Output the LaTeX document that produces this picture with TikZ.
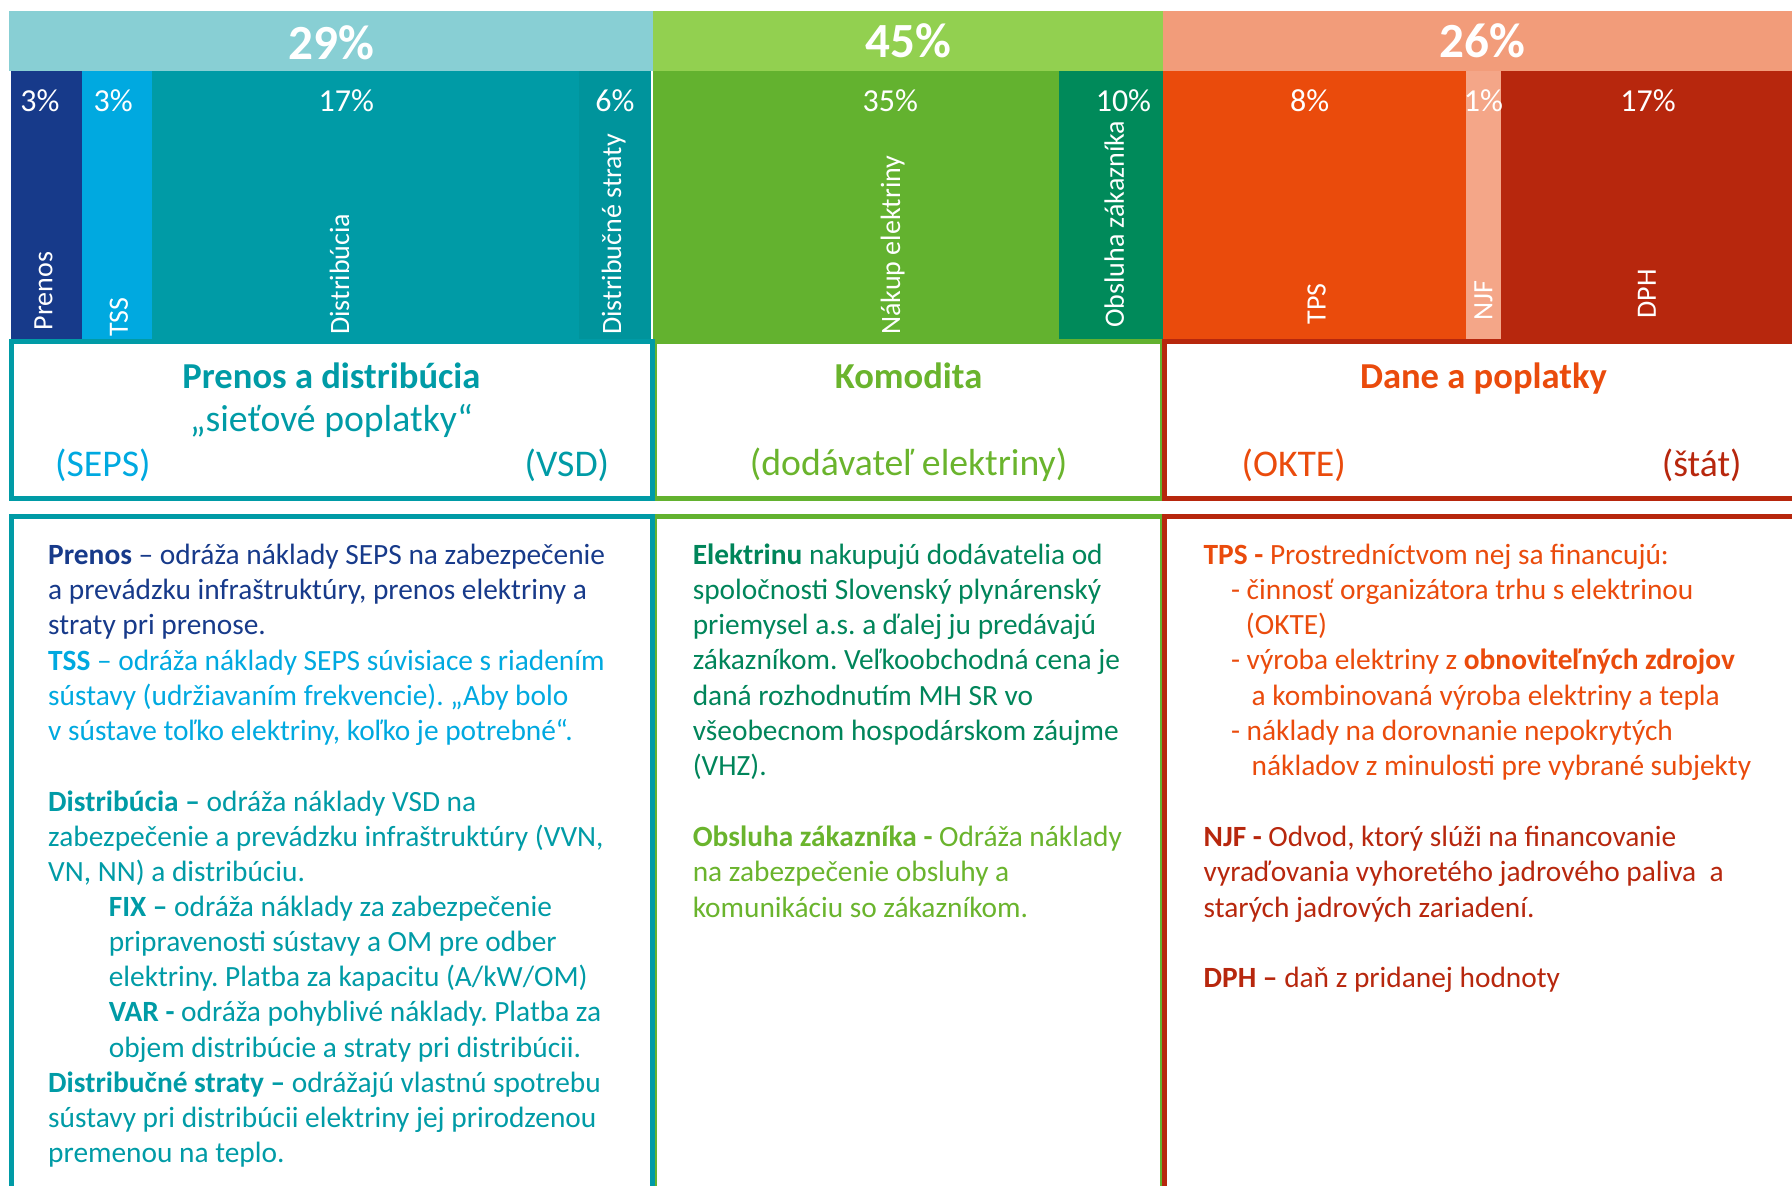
\documentclass[tikz,border=0pt]{standalone}
\usepackage{fontspec}
\setmainfont{Carlito}
\usepackage{xcolor}
\usetikzlibrary{positioning}
\frenchspacing

\definecolor{sietband}{HTML}{88CFD4}
\definecolor{komband}{HTML}{92D050}
\definecolor{daneband}{HTML}{F29C7A}
\definecolor{prenosblue}{HTML}{173A8A}
\definecolor{tssblue}{HTML}{00A9E0}
\definecolor{distteal}{HTML}{009BA6}
\definecolor{stratyteal}{HTML}{00949C}
\definecolor{nakupgreen}{HTML}{63B22F}
\definecolor{obslgreen}{HTML}{008A5A}
\definecolor{tpsorange}{HTML}{EA4B0C}
\definecolor{njfsalmon}{HTML}{F4A688}
\definecolor{dphred}{HTML}{B7270D}
\definecolor{komtext}{HTML}{6AB42D}
\definecolor{elektext}{HTML}{00855A}

\begin{document}
\begin{tikzpicture}[x=1pt,y=-1pt,
    bigpct/.style={white,font=\fontsize{43}{48}\selectfont\bfseries},
    pct/.style={white,font=\fontsize{28}{32}\selectfont},
    vlabel/.style={white,rotate=90,anchor=west,inner sep=0pt,font=\fontsize{24.5}{28}\selectfont},
    head/.style={font=\fontsize{32}{36}\selectfont\bfseries},
    sub/.style={font=\fontsize{33}{38}\selectfont},
    desc/.style={anchor=north west,align=left,inner sep=0pt,font=\fontsize{25.7}{30.8}\selectfont},
    frame/.style={line width=4pt}]
    \useasboundingbox (0,0) rectangle (1568,1037);

    % Top band with the three shares
    \fill[sietband] (8,10) rectangle (571,62);
    \fill[komband] (571,10) rectangle (1018,62);
    \fill[daneband] (1018,10) rectangle (1568,62);
    \node[bigpct] (p29) at (290,37) {29\%};
    \node[bigpct] (p45) at (795,36) {45\%};
    \node[bigpct] (p26) at (1297,36) {26\%};

    % Component bars
    \foreach \xa/\xb/\col in {10/72/prenosblue, 72/133/tssblue, 133/507/distteal,
        507/570/stratyteal, 571/927/nakupgreen, 927/1018/obslgreen,
        1018/1283/tpsorange, 1283/1313/njfsalmon, 1313/1568/dphred} {
        \fill[\col] (\xa,62) rectangle (\xb,299);
    }

    % Percentages of the components
    \foreach \x/\txt [count=\i] in {35/3, 99/3, 303/17, 538/6, 779/35, 983/10,
        1146/8, 1298/1, 1442/17} {
        \node[pct] (c\i) at (\x,88) {\txt\%};
    }

    % Vertical labels
    \node[vlabel] (lprenos) at (38,289) {Prenos};
    \node[vlabel] (ltss) at (104,295) {TSS};
    \node[vlabel] (ldist) at (297,293) {Distribúcia};
    \node[vlabel] (lstraty) at (537,293) {Distribučné straty};
    \node[vlabel] (lnakup) at (781,293) {Nákup elektriny};
    \node[vlabel] (lobsl) at (975,287) {Obsluha zákazníka};
    \node[vlabel] (ltps) at (1152,284) {TPS};
    \node[vlabel] (lnjf) at (1298,281) {NJF};
    \node[vlabel] (ldph) at (1441,279) {DPH};

    % Header boxes
    \draw[frame,nakupgreen] (573,299) rectangle (1017,436);
    \draw[frame,distteal] (10,299) rectangle (571,436);
    \draw[frame,dphred] (1019,299) rectangle (1575,436);

    \node[head,distteal] (hsiet) at (290,329) {Prenos a distribúcia};
    \node[sub,distteal] (hpopl) at (290,368) {„sieťové poplatky“};
    \node[sub,tssblue] (hseps) at (90,407) {(SEPS)};
    \node[sub,distteal] (hvsd) at (496,407) {(VSD)};
    \node[head,komtext] (hkom) at (795,329) {Komodita};
    \node[sub,komtext] (hdod) at (795,407) {(dodávateľ elektriny)};
    \node[head,tpsorange] (hdane) at (1298,331) {Dane a poplatky};
    \node[sub,tpsorange] (hokte) at (1132,407) {(OKTE)};
    \node[sub,dphred] (hstat) at (1489,407) {(štát)};

    % Description boxes (open at the bottom)
    \draw[frame,nakupgreen] (573,1045) -- (573,452) -- (1017,452) -- (1017,1045);
    \draw[frame,distteal] (10,1045) -- (10,452) -- (571,452) -- (571,1045);
    \draw[frame,dphred] (1019,1045) -- (1019,452) -- (1575,452);

    % Texts - prenos a distribucia
    \node[desc,prenosblue] (tprenos) at (42,472) {\strut\textbf{Prenos} – odráža náklady SEPS na zabezpečenie\\
        a prevádzku infraštruktúry, prenos elektriny a\\
        straty pri prenose.};
    \node[desc,tssblue] (ttss) at (42,565) {\strut\textbf{TSS} – odráža náklady SEPS súvisiace s riadením\\
        sústavy (udržiavaním frekvencie). „Aby bolo\\
        v sústave toľko elektriny, koľko je potrebné“.};
    \node[desc,distteal] (tdist) at (42,688) {\strut\textbf{Distribúcia –} odráža náklady VSD na\\
        zabezpečenie a prevádzku infraštruktúry (VVN,\\
        VN, NN) a distribúciu.};
    \node[desc,distteal] (tfix) at (95,780) {\strut\textbf{FIX –} odráža náklady za zabezpečenie\\
        pripravenosti sústavy a OM pre odber\\
        elektriny. Platba za kapacitu (A/kW/OM)\\
        \textbf{VAR -} odráža pohyblivé náklady. Platba za\\
        objem distribúcie a straty pri distribúcii.};
    \node[desc,distteal] (tstraty) at (42,934) {\strut\textbf{Distribučné straty –} odrážajú vlastnú spotrebu\\
        sústavy pri distribúcii elektriny jej prirodzenou\\
        premenou na teplo.};

    % Texts - komodita
    \node[desc,elektext] (telek) at (606,472) {\strut\textbf{Elektrinu} nakupujú dodávatelia od\\
        spoločnosti Slovenský plynárenský\\
        priemysel a.s. a ďalej ju predávajú\\
        zákazníkom. Veľkoobchodná cena je\\
        daná rozhodnutím MH SR vo\\
        všeobecnom hospodárskom záujme\\
        (VHZ).};
    \node[desc,komtext] (tobsl) at (606,719) {\strut\textbf{Obsluha zákazníka -} Odráža náklady\\
        na zabezpečenie obsluhy a\\
        komunikáciu so zákazníkom.};

    % Texts - dane a poplatky
    \node[desc,tpsorange] (ttps) at (1053,472) {\strut\textbf{TPS -} Prostredníctvom nej sa financujú:\\
        \hspace*{24pt}- činnosť organizátora trhu s elektrinou\\
        \hspace*{37pt}(OKTE)\\
        \hspace*{24pt}- výroba elektriny z \textbf{obnoviteľných zdrojov}\\
        \hspace*{42pt}a kombinovaná výroba elektriny a tepla\\
        \hspace*{24pt}- náklady na dorovnanie nepokrytých\\
        \hspace*{42pt}nákladov z minulosti pre vybrané subjekty};
    \node[desc,dphred] (tnjf) at (1053,719) {\strut\textbf{NJF -} Odvod, ktorý slúži na financovanie\\
        vyraďovania vyhoretého jadrového paliva~ a\\
        starých jadrových zariadení.};
    \node[desc,dphred] (tdph) at (1053,842) {\strut\textbf{DPH –} daň z pridanej hodnoty};
\end{tikzpicture}
\end{document}
